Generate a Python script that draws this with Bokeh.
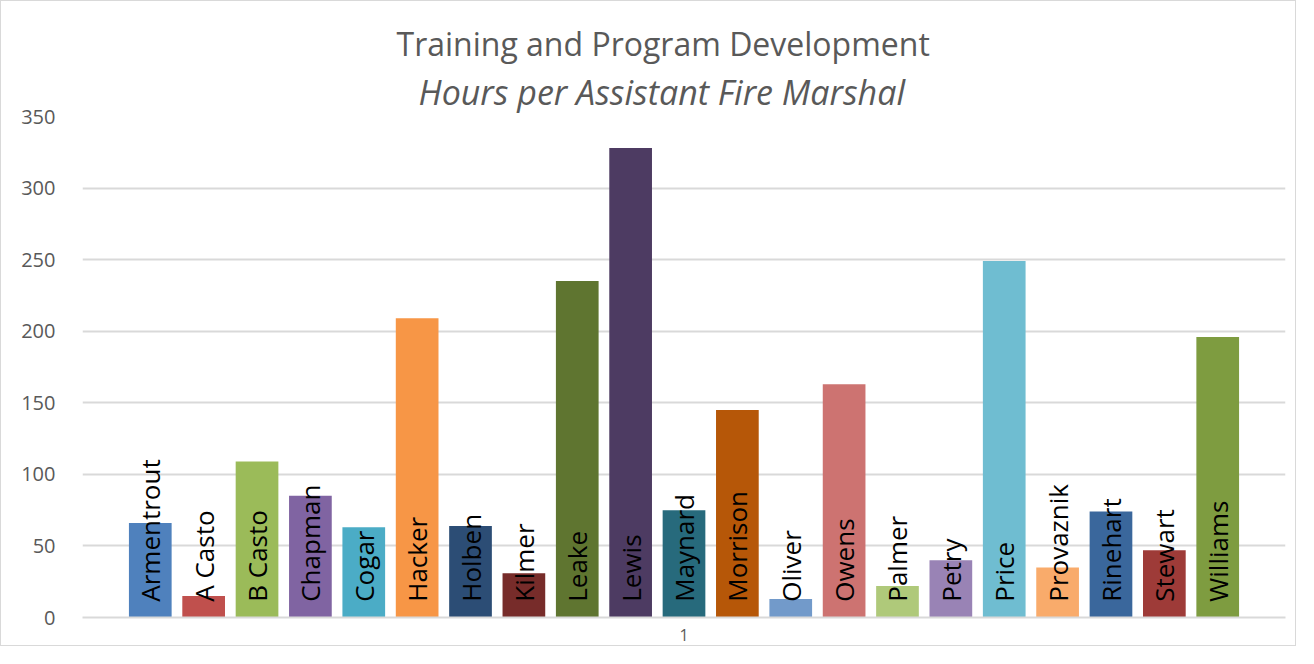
from bokeh.plotting import figure
from bokeh.models import ColumnDataSource, FixedTicker, Range1d, Title
from bokeh.core.properties import value
from bokeh.embed import file_html
from bokeh.resources import INLINE

names = ["Armentrout", "A Casto", "B Casto", "Chapman", "Cogar", "Hacker", "Holben",
         "Kilmer", "Leake", "Lewis", "Maynard", "Morrison", "Oliver", "Owens",
         "Palmer", "Petry", "Price", "Provaznik", "Rinehart", "Stewart", "Williams"]
hours = [66, 15, 109, 85, 63, 209, 64, 31, 235, 328, 75, 145, 13, 163, 22, 40, 249, 35, 74, 47, 196]
colors = ["#4F81BD", "#C0504D", "#9BBB59", "#8064A2", "#4BACC6", "#F79646", "#2C4D75",
          "#772C2A", "#5F7530", "#4D3B62", "#276A7C", "#B65708", "#729ACA", "#CD7371",
          "#AFC97A", "#9983B5", "#6FBDD1", "#F9AB6B", "#3A679C", "#9E3B38", "#7E9C40"]
y_ticks = [0, 50, 100, 150, 200, 250, 300, 350]
x_tick_label = "1"
title_text = "Training and Program Development"
subtitle_text = "Hours per Assistant Fire Marshal"

xs = list(range(1, len(names) + 1))
src = ColumnDataSource(dict(x=xs, top=hours, name=names, color=colors,
                            ly=[11] * len(names)))

p = figure(width=1296, height=646, output_backend="svg", toolbar_location=None,
           x_range=Range1d(-0.27, 22.27), y_range=Range1d(0, 350),
           min_border_left=81, min_border_right=12, min_border_top=115, min_border_bottom=30)
p.styles = {"border": "1px solid #d9d9d9"}
p.outline_line_color = None
p.background_fill_color = "white"
p.border_fill_color = "white"
p.title.text = ""

p.vbar(x="x", top="top", width=0.8, bottom=0, fill_color="color", line_color=None, source=src)
p.text(x="x", y="ly", text="name", angle=1.5708, text_align="left", text_baseline="middle",
       text_font=value("Open Sans"), text_font_size="26px", text_color="black", source=src)

p.yaxis.ticker = FixedTicker(ticks=y_ticks)
p.yaxis.axis_line_color = None
p.yaxis.major_tick_line_color = None
p.yaxis.minor_tick_line_color = None
p.yaxis.major_label_text_font = "Open Sans"
p.yaxis.major_label_text_font_size = "20px"
p.yaxis.major_label_text_color = "#595959"
p.yaxis.major_label_standoff = 21

mid = (len(names) + 1) / 2
p.xaxis.ticker = FixedTicker(ticks=[mid])
p.xaxis.major_label_overrides = {mid: x_tick_label}
p.xaxis.axis_line_color = "#d9d9d9"
p.xaxis.axis_line_width = 2
p.xaxis.major_tick_line_color = None
p.xaxis.minor_tick_line_color = None
p.xaxis.major_label_text_font = "Open Sans"
p.xaxis.major_label_text_font_size = "16px"
p.xaxis.major_label_text_color = "#595959"
p.xaxis.major_label_standoff = 5

p.xgrid.grid_line_color = None
p.ygrid.grid_line_color = "#d9d9d9"
p.ygrid.grid_line_width = 2

sub = Title(text=subtitle_text, align="left", text_font="Open Sans",
            text_font_size="34px", text_font_style="italic", text_color="#595959",
            standoff=4, offset=336)
main = Title(text=title_text, align="left", text_font="Open Sans",
             text_font_size="32px", text_font_style="normal", text_color="#595959",
             standoff=0, offset=314)
p.add_layout(sub, "above")
p.add_layout(main, "above")

open("out.html", "w").write(file_html(p, INLINE))
